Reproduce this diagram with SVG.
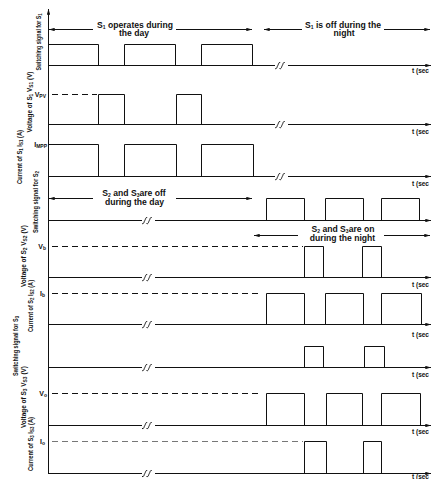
<svg xmlns="http://www.w3.org/2000/svg" width="432" height="479" viewBox="0 0 432 479">
<defs>
<style>
.ln{stroke:#111;stroke-width:1;fill:none}
.ds{stroke-dasharray:6 4}
.gr{stroke:#777}
.ar{marker-end:url(#ah)}
.hd{font-family:"Liberation Sans",Arial,sans-serif;font-weight:bold;font-size:8.6px;fill:#111;text-anchor:middle}
.ax{font-family:"Liberation Sans",Arial,sans-serif;font-weight:bold;font-size:6.5px;fill:#111;text-anchor:middle}
.lv{font-family:"Liberation Sans",Arial,sans-serif;font-weight:bold;font-size:7px;fill:#111;text-anchor:end}
.ts{font-family:"Liberation Sans",Arial,sans-serif;font-weight:bold;font-size:6.5px;fill:#111}
.sb{font-size:5px}
</style>
<marker id="ah" viewBox="0 0 10 6" refX="10" refY="3" markerWidth="6" markerHeight="3.4" orient="auto" markerUnits="userSpaceOnUse">
<path d="M0,0 L10,3 L0,6 z" fill="#111"/>
</marker>
<g id="brk" class="ln">
<path d="M-6,3 C-4,4 -4,1 -3.2,0 S-2.5,-3.5 -0.8,-3 M-1.5,3 C0.5,4 0.5,1 1.3,0 S2,-3.5 3.7,-3"/>
</g>
</defs>
<rect width="432" height="479" fill="#fff"/>

<g id="axis">
<path class="ln ar" d="M48.5,473.5 V9"/>
</g>

<g id="labels-y">
<text class="ax" transform="translate(41,42) rotate(-90)" textLength="57" lengthAdjust="spacingAndGlyphs">Switching signal for S<tspan class="sb" dy="1">1</tspan></text>
<text class="ax" transform="translate(32,102) rotate(-90)" textLength="61" lengthAdjust="spacingAndGlyphs">Voltage of S<tspan class="sb" dy="1">1</tspan><tspan dy="-1"> V</tspan><tspan class="sb" dy="1">S1</tspan><tspan dy="-1"> (V)</tspan></text>
<text class="ax" transform="translate(22,157) rotate(-90)" textLength="54" lengthAdjust="spacingAndGlyphs">Current of S<tspan class="sb" dy="1">1</tspan><tspan dy="-1"> I</tspan><tspan class="sb" dy="1">S1</tspan><tspan dy="-1"> (A)</tspan></text>
<text class="ax" transform="translate(38,202) rotate(-90)" textLength="62" lengthAdjust="spacingAndGlyphs">Switching signal for S<tspan class="sb" dy="1">2</tspan></text>
<text class="ax" transform="translate(26,256) rotate(-90)" textLength="62" lengthAdjust="spacingAndGlyphs">Voltage of S<tspan class="sb" dy="1">2</tspan><tspan dy="-1"> V</tspan><tspan class="sb" dy="1">S2</tspan><tspan dy="-1"> (V)</tspan></text>
<text class="ax" transform="translate(33,306) rotate(-90)" textLength="52" lengthAdjust="spacingAndGlyphs">Current of S<tspan class="sb" dy="1">2</tspan><tspan dy="-1"> I</tspan><tspan class="sb" dy="1">S2</tspan><tspan dy="-1"> (A)</tspan></text>
<text class="ax" transform="translate(18,346) rotate(-90)" textLength="60" lengthAdjust="spacingAndGlyphs">Switching signal for S<tspan class="sb" dy="1">3</tspan></text>
<text class="ax" transform="translate(26,397) rotate(-90)" textLength="62" lengthAdjust="spacingAndGlyphs">Voltage of S<tspan class="sb" dy="1">3</tspan><tspan dy="-1"> V</tspan><tspan class="sb" dy="1">S3</tspan><tspan dy="-1"> (V)</tspan></text>
<text class="ax" transform="translate(33,444) rotate(-90)" textLength="54" lengthAdjust="spacingAndGlyphs">Current of S<tspan class="sb" dy="1">3</tspan><tspan dy="-1"> I</tspan><tspan class="sb" dy="1">S3</tspan><tspan dy="-1"> (A)</tspan></text>
</g>

<g id="levels">
<text class="lv" x="46" y="96.5">V<tspan class="sb" dy="1">PV</tspan></text>
<text class="lv" x="47" y="146.5">I<tspan class="sb" dy="1">MPP</tspan></text>
<text class="lv" x="46" y="249">V<tspan class="sb" dy="1">b</tspan></text>
<text class="lv" x="45" y="295.5">I<tspan class="sb" dy="1">b</tspan></text>
<text class="lv" x="47" y="395.5">V<tspan class="sb" dy="1">o</tspan></text>
<text class="lv" x="45" y="443.5">I<tspan class="sb" dy="1">o</tspan></text>
</g>

<g id="headers">
<text class="hd" x="135" y="27.5">S<tspan class="sb" font-size="5.5" dy="1">1</tspan><tspan dy="-1"> operates during</tspan></text>
<text class="hd" x="134" y="36">the day</text>
<path class="ln ar" d="M93,29.5 H49"/>
<path class="ln ar" d="M176,29.5 H252"/>
<text class="hd" x="343" y="27.5">S<tspan class="sb" font-size="5.5" dy="1">1</tspan><tspan dy="-1"> is off during the</tspan></text>
<text class="hd" x="344" y="36">night</text>
<path class="ln ar" d="M302,29.5 H264"/>
<path class="ln ar" d="M384,29.5 H430"/>
<text class="hd" x="134" y="196">S<tspan class="sb" font-size="5.5" dy="1">2</tspan><tspan dy="-1"> and S</tspan><tspan class="sb" font-size="5.5" dy="1">3</tspan><tspan dy="-1">are off</tspan></text>
<text class="hd" x="134.5" y="204.5">during the day</text>
<path class="ln ar" d="M93,198.5 H49"/>
<path class="ln ar" d="M176,198.5 H252"/>
<text class="hd" x="343" y="232">S<tspan class="sb" font-size="5.5" dy="1">2</tspan><tspan dy="-1"> and S</tspan><tspan class="sb" font-size="5.5" dy="1">3</tspan><tspan dy="-1">are on</tspan></text>
<text class="hd" x="342.5" y="240.5">during the night</text>
<path class="ln ar" d="M298,235.5 H254"/>
<path class="ln ar" d="M384,235.5 H430"/>
</g>

<g id="panel1">
<path class="ln" d="M48,44.5 H98.5 V65.5 M124.5,65.5 V44.5 H175.5 V65.5 M201.5,65.5 V44.5 H252.5 V65.5"/>
<path class="ln ar" d="M48,65.5 H275 M288,65.5 H431"/>
<use href="#brk" x="281" y="65.5"/>
<text class="ts" x="412" y="73">t (sec</text>
</g>

<g id="panel2">
<path class="ln ds" d="M52,94.5 H97"/>
<path class="ln" d="M98.5,124.5 V94.5 H124.5 V124.5 M176.5,124.5 V94.5 H201.5 V124.5"/>
<path class="ln ar" d="M48,124.5 H275 M288,124.5 H431"/>
<use href="#brk" x="281" y="124.5"/>
<text class="ts" x="412" y="134">t (sec</text>
</g>

<g id="panel3">
<path class="ln" d="M48,144.5 H98.5 V176.5 M124.5,176.5 V144.5 H176.5 V176.5 M201.5,176.5 V144.5 H253.5 V176.5"/>
<path class="ln ar" d="M48,176.5 H275 M288,176.5 H431"/>
<use href="#brk" x="281" y="176.5"/>
<text class="ts" x="412" y="186">t (sec</text>
</g>

<g id="panel4">
<path class="ln" d="M266.5,220.5 V198.5 H304.5 V220.5 M325.5,220.5 V198.5 H363.5 V220.5 M381.5,220.5 V198.5 H419.5 V220.5"/>
<path class="ln ar" d="M48,220.5 H142 M155,220.5 H431"/>
<use href="#brk" x="148" y="220.5"/>
</g>

<g id="panel5">
<path class="ln ds" d="M52,246.5 H303"/>
<path class="ln" d="M304.5,277.5 V246.5 H323.5 V277.5 M362.5,277.5 V246.5 H381.5 V277.5"/>
<path class="ln ar" d="M48,277.5 H142 M155,277.5 H431"/>
<use href="#brk" x="148" y="277.5"/>
<text class="ts" x="412" y="287">t (sec</text>
</g>

<g id="panel6">
<path class="ln ds" d="M52,293.5 H260"/>
<path class="ln" d="M266.5,324.5 V293.5 H304.5 V324.5 M325.5,324.5 V293.5 H363.5 V324.5 M381.5,324.5 V293.5 H421.5 V324.5"/>
<path class="ln ar" d="M48,324.5 H142 M155,324.5 H431"/>
<use href="#brk" x="148" y="324.5"/>
<text class="ts" x="412" y="337">t (sec</text>
</g>

<g id="panel7">
<path class="ln" d="M304.5,367.5 V346.5 H323.5 V367.5 M364.5,367.5 V346.5 H384.5 V367.5"/>
<path class="ln ar" d="M48,367.5 H142 M155,367.5 H431"/>
<use href="#brk" x="148" y="367.5"/>
<text class="ts" x="412" y="377">t (sec</text>
</g>

<g id="panel8">
<path class="ln ds" d="M52,393.5 H260"/>
<path class="ln" d="M266.5,425.5 V393.5 H304.5 V425.5 M326.5,425.5 V393.5 H362.5 V425.5 M381.5,425.5 V393.5 H420.5 V425.5"/>
<path class="ln ar" d="M48,425.5 H142 M155,425.5 H431"/>
<use href="#brk" x="148" y="425.5"/>
<text class="ts" x="412" y="434">t (sec</text>
</g>

<g id="panel9">
<path class="ln ds gr" d="M52,441.5 H303"/>
<path class="ln" d="M304.5,473.5 V441.5 H326.5 V473.5 M363.5,473.5 V441.5 H381.5 V473.5"/>
<path class="ln ar" d="M48,473.5 H142 M155,473.5 H431"/>
<use href="#brk" x="148" y="473.5"/>
<text class="ts" x="412" y="479">t (sec</text>
</g>
</svg>
